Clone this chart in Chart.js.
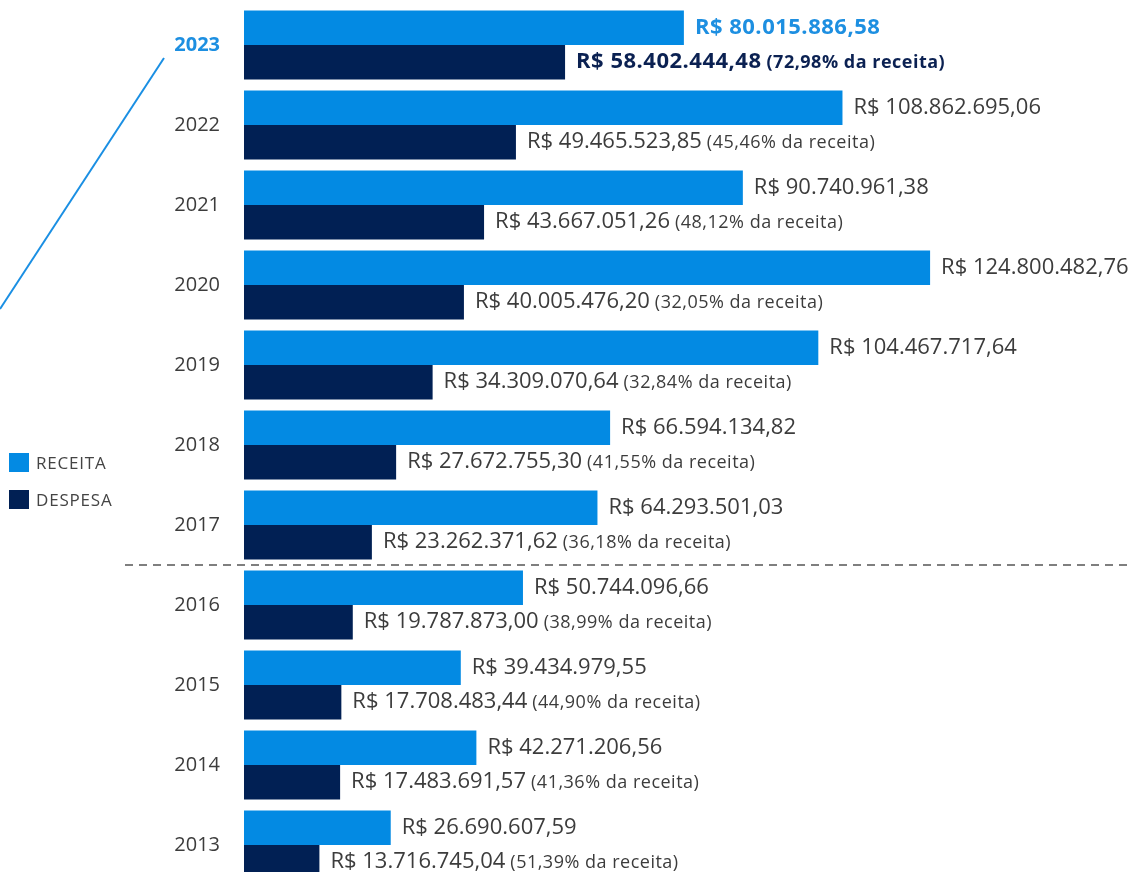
<!DOCTYPE html>
<html><head><meta charset="utf-8">
<script src="https://cdn.jsdelivr.net/npm/chart.js@4/dist/chart.umd.min.js"></script>
<style>
html,body{margin:0;padding:0;overflow:hidden;background:#fff;width:1128px;height:872px}
#wrap{position:absolute;left:0;top:0;width:1128px;height:890px}
</style></head>
<body><div id="wrap"><canvas id="c"></canvas></div>
<script>
const years = ['2023','2022','2021','2020','2019','2018','2017','2016','2015','2014','2013'];
const receita = [80015886.58,108862695.06,90740961.38,124800482.76,104467717.64,66594134.82,64293501.03,50744096.66,39434979.55,42271206.56,26690607.59];
const despesa = [58402444.48,49465523.85,43667051.26,40005476.20,34309070.64,27672755.30,23262371.62,19787873.00,17708483.44,17483691.57,13716745.04];
const percentuais = ['72,98%','45,46%','48,12%','32,05%','32,84%','41,55%','36,18%','38,99%','44,90%','41,36%','51,39%'];
const seriesNames = ['RECEITA','DESPESA'];
const pctSuffix = ' da receita';

const BLUE = '#038ae3';
const NAVY = '#012054';
const BLUE_TXT = '#1d8fe1';
const NAVY_TXT = '#0b2152';
const GRAY = '#3c3c3c';
const FONT = '"Open Sans", "Noto Sans", sans-serif';

function fmt(v){
  const neg = v < 0; v = Math.abs(v);
  let [i, d] = v.toFixed(2).split('.');
  i = i.replace(/\B(?=(\d{3})+(?!\d))/g, '.');
  return (neg?'-':'') + i + ',' + d;
}

function setSpacing(ctx, px){ if ('letterSpacing' in ctx) ctx.letterSpacing = px + 'px'; }

const decoPlugin = {
  id: 'deco',
  afterDatasetsDraw(chart){
    const ctx = chart.ctx;
    ctx.save();
    ctx.textAlign = 'left';
    ctx.textBaseline = 'alphabetic';
    chart.data.datasets.forEach((ds, di) => {
      const meta = chart.getDatasetMeta(di);
      meta.data.forEach((bar, i) => {
        const hl = i === 0;
        const main = 'R$ ' + fmt(ds.data[i]);
        let x = bar.x + 11;
        const y = bar.y + 6;
        ctx.font = (hl ? '700 22px ' : '400 22px ') + FONT;
        setSpacing(ctx, hl ? 0.5 : 0);
        ctx.fillStyle = hl ? (di === 0 ? BLUE_TXT : NAVY_TXT) : GRAY;
        ctx.fillText(main, x, y);
        if (di === 1) {
          x += ctx.measureText(main).width + 5;
          ctx.font = (hl ? '700 ' : '400 ') + '18px ' + FONT;
          setSpacing(ctx, 0.5);
          ctx.fillText('(' + percentuais[i] + pctSuffix + ')', x, y);
        }
        setSpacing(ctx, 0);
      });
    });
    // dashed separator between 2017 and 2016
    const ys = chart.scales.y;
    const sepY = (ys.getPixelForValue(6) + ys.getPixelForValue(7)) / 2;
    ctx.strokeStyle = '#555';
    ctx.lineWidth = 1.5;
    ctx.setLineDash([8, 6]);
    ctx.beginPath();
    ctx.moveTo(125, sepY);
    ctx.lineTo(chart.width, sepY);
    ctx.stroke();
    ctx.setLineDash([]);
    // diagonal highlight line from 2023 label
    const y0 = ys.getPixelForValue(0);
    ctx.strokeStyle = '#1a8fe3';
    ctx.lineWidth = 2;
    ctx.beginPath();
    ctx.moveTo(164, y0 + 13);
    ctx.lineTo(0, y0 + 264);
    ctx.stroke();
    // legend
    const cols = [BLUE, NAVY];
    const ly = [453, 490];
    ctx.font = '400 17px ' + FONT;
    setSpacing(ctx, 0.8);
    ctx.textBaseline = 'middle';
    seriesNames.forEach((n, k) => {
      ctx.fillStyle = cols[k];
      ctx.fillRect(9, ly[k], 20, 19);
      ctx.fillStyle = '#444';
      ctx.fillText(n, 36, ly[k] + 11);
    });
    setSpacing(ctx, 0);
    ctx.restore();
  }
};

new Chart(document.getElementById('c'), {
  type: 'bar',
  data: {
    labels: years,
    datasets: [
      { label: seriesNames[0], data: receita, backgroundColor: BLUE, borderWidth: 0 },
      { label: seriesNames[1], data: despesa, backgroundColor: NAVY, borderWidth: 0 }
    ]
  },
  options: {
    indexAxis: 'y',
    responsive: true,
    maintainAspectRatio: false,
    animation: false,
    devicePixelRatio: 1,
    layout: { padding: { top: 5, bottom: 5, left: 0, right: 0 } },
    datasets: { bar: { categoryPercentage: 0.8625, barPercentage: 1.0 } },
    plugins: { legend: { display: false }, tooltip: { enabled: false } },
    scales: {
      x: { type: 'linear', min: 0, max: 160.8e6, display: false },
      y: {
        type: 'category',
        grid: { display: false, drawTicks: false },
        border: { display: false },
        ticks: {
          padding: 24,
          color: c => c.index === 0 ? BLUE_TXT : GRAY,
          font: c => ({ family: FONT, size: 20, weight: c.index === 0 ? '700' : '400' })
        },
        afterFit(s){ s.width = 244; s.paddingTop = 0; s.paddingBottom = 0; }
      }
    }
  },
  plugins: [decoPlugin]
});
</script>
</body></html>
